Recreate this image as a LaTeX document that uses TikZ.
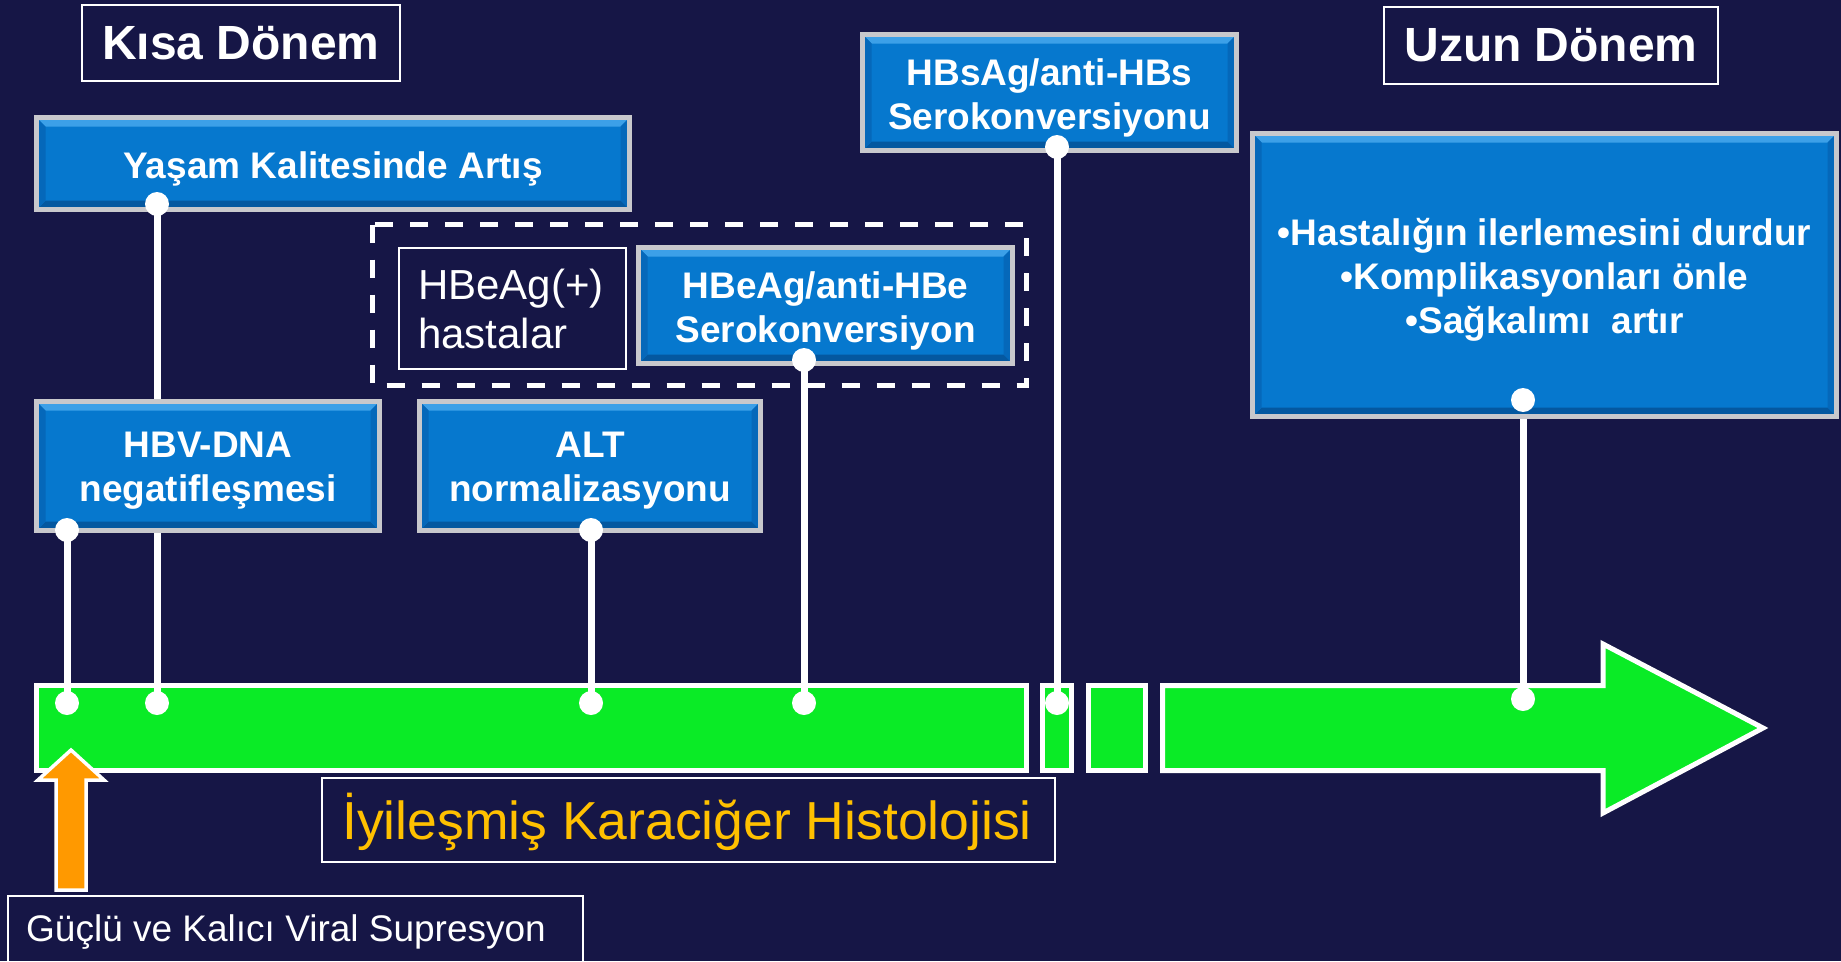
\documentclass[tikz,border=0pt]{standalone}
\usepackage{fontspec}
\setmainfont{Liberation Sans}
\begin{document}
\pgfdeclarelayer{back}
\pgfdeclarelayer{wires}
\pgfdeclarelayer{front}
\pgfsetlayers{back,wires,main,front}
\definecolor{navy}{RGB}{22,22,70}
\definecolor{boxblue}{RGB}{6,120,206}
\definecolor{bevlight}{RGB}{60,160,232}
\definecolor{bevdark}{RGB}{4,88,160}
\definecolor{bevside}{RGB}{5,104,186}
\definecolor{boxedge}{RGB}{200,200,204}
\definecolor{barfill}{RGB}{10,235,38}
\definecolor{arrowfill}{RGB}{255,153,0}
\definecolor{goldtext}{RGB}{255,192,0}
\tikzset{
  boxfont/.style={font=\fontsize{37}{44}\selectfont\bfseries},
  boxtext/.style={align=center, text=white, boxfont, inner sep=0pt, yshift=-5pt},
  bluebox/.style 2 args={draw=boxedge, line width=5pt, fill=boxblue,
    inner sep=0pt, minimum width=#1, minimum height=#2,
    path picture={
      \fill[bevlight] (path picture bounding box.north west) -- (path picture bounding box.north east)
        -- ([xshift=-9pt,yshift=-9pt]path picture bounding box.north east)
        -- ([xshift=9pt,yshift=-9pt]path picture bounding box.north west) -- cycle;
      \fill[bevdark] (path picture bounding box.south west) -- (path picture bounding box.south east)
        -- ([xshift=-9pt,yshift=9pt]path picture bounding box.south east)
        -- ([xshift=9pt,yshift=9pt]path picture bounding box.south west) -- cycle;
      \fill[bevside] (path picture bounding box.north west) -- ([xshift=9pt,yshift=-9pt]path picture bounding box.north west)
        -- ([xshift=9pt,yshift=9pt]path picture bounding box.south west) -- (path picture bounding box.south west) -- cycle;
      \fill[bevside] (path picture bounding box.north east) -- ([xshift=-9pt,yshift=-9pt]path picture bounding box.north east)
        -- ([xshift=-9pt,yshift=9pt]path picture bounding box.south east) -- (path picture bounding box.south east) -- cycle;
    }},
  framebox/.style 2 args={draw=white, line width=2pt, inner sep=0pt,
    minimum width=#1, minimum height=#2, text=white},
  titlefont/.style={font=\fontsize{48}{56}\selectfont\bfseries},
  dot/.style={circle, fill=white, minimum size=24pt, inner sep=0pt},
  wire/.style={draw=white, line width=7pt},
  barseg/.style={draw=white, line width=5pt, fill=barfill, line join=miter},
}
\begin{tikzpicture}[x=1pt, y=-1pt]
  % canvas
  \begin{pgfonlayer}{back}
    \fill[navy] (0,0) rectangle (1841,961);
    % timeline bar in four pieces, the last one an arrow
    \draw[barseg] (36.5,685.5) rectangle (1026.5,770.5);
    \draw[barseg] (1042.5,685.5) rectangle (1071,770.5);
    \draw[barseg] (1088.5,685.5) rectangle (1145,770.5);
    \draw[barseg] (1162.5,685.5) -- (1603,685.5) -- (1603,644) -- (1763,728)
      -- (1603,813) -- (1603,770.5) -- (1162.5,770.5) -- cycle;
  \end{pgfonlayer}
  \useasboundingbox (0,0) rectangle (1841,961);

  % period titles
  \node[framebox={318pt}{76pt}, titlefont] (kisa) at (241,43) {Kısa Dönem};
  \node[framebox={334pt}{77pt}, titlefont] (uzun) at (1551,45) {Uzun Dönem};

  % HBeAg positive group
  \draw[white, line width=5pt, dash pattern=on 18pt off 17pt] (372.5,224.5) rectangle (1026.5,385.5);
  \node[framebox={227pt}{121pt}] (hbeplus) at (512.5,308.5) {};
  \node[anchor=west, align=left, text=white, inner sep=0pt,
        font=\fontsize{42}{49}\selectfont] (hbeplustext) at (418,308.5) {HBeAg(+)\\hastalar};

  % outcome boxes
  \node[bluebox={593pt}{92pt}, label={[boxtext]center:{Yaşam Kalitesinde Artış}}] (yasam) at (333,163.5) {};
  \node[bluebox={343pt}{129pt}, label={[boxtext]center:{HBV-DNA\\negatifleşmesi}}] (hbv) at (208,466) {};
  \node[bluebox={341pt}{129pt}, label={[boxtext]center:{ALT\\normalizasyonu}}] (alt) at (590,466) {};
  \node[bluebox={374pt}{116pt}, label={[boxtext]center:{HBeAg/anti-HBe\\Serokonversiyon}}] (hbe) at (825.5,305.5) {};
  \node[bluebox={374pt}{116pt}, label={[boxtext]center:{HBsAg/anti-HBs\\Serokonversiyonu}}] (hbs) at (1049.5,92.5) {};
  \node[bluebox={584pt}{283pt},
        label={[boxtext]center:{•Hastalığın ilerlemesini durdur\\•Komplikasyonları önle\\•Sağkalımı\ \ artır}}]
        (uzunbox) at (1544.5,275) {};

  % milestone dots: on the boxes and on the bar
  \begin{pgfonlayer}{front}
    \node[dot] (hbvtop) at (67,530) {};
    \node[dot] (hbvbar) at (67,703) {};
    \node[dot] (yasamtop) at (157,204) {};
    \node[dot] (yasambar) at (157,703) {};
    \node[dot] (alttop) at (591,530) {};
    \node[dot] (altbar) at (591,703) {};
    \node[dot] (hbetop) at (804,360) {};
    \node[dot] (hbebar) at (804,703) {};
    \node[dot] (hbstop) at (1057,147) {};
    \node[dot] (hbsbar) at (1057,703) {};
    \node[dot] (uzuntop) at (1523,400) {};
    \node[dot] (uzunbar) at (1523,699) {};
  \end{pgfonlayer}

  % connectors run behind the boxes
  \begin{pgfonlayer}{wires}
    \draw[wire] (hbvtop.center) -- (hbvbar.center);
    \draw[wire] (yasamtop.center) -- (yasambar.center);
    \draw[wire] (alttop.center) -- (altbar.center);
    \draw[wire] (hbetop.center) -- (hbebar.center);
    \draw[wire] (hbstop.center) -- (hbsbar.center);
    \draw[wire] (uzuntop.center) -- (uzunbar.center);
  \end{pgfonlayer}

  % histology label
  \node[framebox={733pt}{84pt}] (iyi) at (688.5,820) {};
  \node[anchor=west, inner sep=0pt, text=goldtext, font=\fontsize{53.5}{60}\selectfont] (iyitext) at (342,822)
    {İyileşmiş Karaciğer Histolojisi};

  % viral suppression marker
  \begin{pgfonlayer}{front}
    \draw[white, line width=3.5pt, fill=arrowfill, line join=miter]
      (71,750) -- (104,780) -- (86,780) -- (86,890) -- (56,890) -- (56,780) -- (38,780) -- cycle;
  \end{pgfonlayer}
  \node[framebox={575pt}{70pt}] (guclu) at (295.5,931) {};
  \node[anchor=west, inner sep=0pt, text=white, font=\fontsize{37}{44}\selectfont] (guclutext) at (26,932)
    {Güçlü ve Kalıcı Viral Supresyon};
\end{tikzpicture}
\end{document}
